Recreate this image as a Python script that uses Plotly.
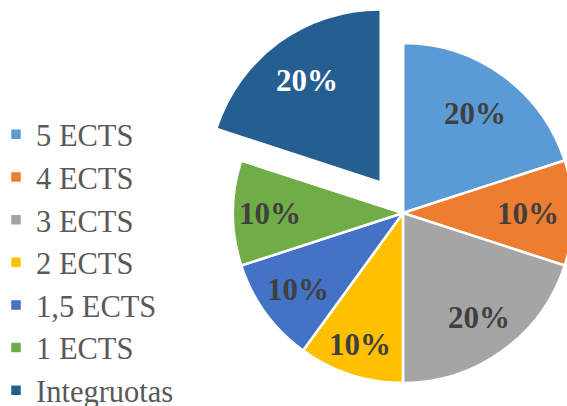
import math
import plotly.graph_objects as go

# ---- data ----
labels = ["5 ECTS", "4 ECTS", "3 ECTS", "2 ECTS", "1,5 ECTS", "1 ECTS", "Integruotas"]
values = [20, 10, 20, 10, 10, 10, 20]
pulled_label = "Integruotas"

# ---- style ----
colors = ["#5B9BD5", "#ED7D31", "#A5A5A5", "#FFC000", "#4472C4", "#70AD47", "#255E91"]
label_colors = ["#404040"] * 6 + ["#FFFFFF"]
label_dist_px = [123, 125, 129, 138, 130, 133, 124]  # distance of label from slice centre
W, H = 575, 406                     # canvas slightly wider than the 567px window (pie is cropped on the right)
CX, CY, R = 403, 213, 170           # pie centre / radius in pixels
PULL_PX = 40                        # explode distance of pulled slice
SERIF = "Liberation Serif, Times New Roman, serif"

total = sum(values)
pi = labels.index(pulled_label)
cum = 0
mids = []
for v in values:
    mids.append((cum + v / 2) / total * 2 * math.pi)
    cum += v

# offset of pulled slice
pdx = PULL_PX * math.sin(mids[pi])
pdy = -PULL_PX * math.cos(mids[pi])


def dom(cx, cy, r):
    return dict(x=[(cx - r) / W, (cx + r) / W],
                y=[(H - cy - r) / H, (H - cy + r) / H])


transparent = "rgba(0,0,0,0)"

fig = go.Figure()
# main pie (legend source)
fig.add_trace(go.Pie(
    labels=labels, values=values, sort=False, direction="clockwise", rotation=0,
    marker=dict(colors=colors, line=dict(color="white", width=2.5)),
    textinfo="none", hoverinfo="label+percent", domain=dom(CX, CY, R),
))
# white cover where the pulled slice originally was
fig.add_trace(go.Pie(
    labels=labels, values=values, sort=False, direction="clockwise", rotation=0,
    marker=dict(colors=[transparent if l != pulled_label else "white" for l in labels],
                line=dict(color=transparent, width=0)),
    textinfo="none", hoverinfo="skip", showlegend=False, domain=dom(CX, CY, R),
))
# pulled slice
fig.add_trace(go.Pie(
    labels=labels, values=values, sort=False, direction="clockwise", rotation=0,
    marker=dict(colors=[transparent if l != pulled_label else colors[pi] for l in labels],
                line=dict(color=transparent, width=0)),
    textinfo="none", hoverinfo="skip", showlegend=False,
    domain=dom(CX + pdx, CY + pdy, R),
))

annotations = []
for i, (v, m) in enumerate(zip(values, mids)):
    cx = CX + (pdx if i == pi else 0)
    cy = CY + (pdy if i == pi else 0)
    x = cx + label_dist_px[i] * math.sin(m)
    y = cy - label_dist_px[i] * math.cos(m)
    annotations.append(dict(
        x=x / W, y=1 - y / H, xref="paper", yref="paper", showarrow=False,
        text=f"<b>{round(v / total * 100)}%</b>",
        font=dict(family=SERIF, size=31, color=label_colors[i]),
        xanchor="center", yanchor="middle",
    ))

fig.update_layout(
    width=W, height=H, margin=dict(l=0, r=0, t=0, b=0, autoexpand=False),
    paper_bgcolor="white", plot_bgcolor="white",
    annotations=annotations,
    legend=dict(x=-4 / W, xanchor="left", y=1 - 108 / H, yanchor="top",
                font=dict(family=SERIF, size=30.5, color="#595959"),
                traceorder="normal", itemclick=False),
    showlegend=True,
)

fig.write_html(
    "out.html",
    config={"displayModeBar": False},
    post_script="document.body.style.margin='0';document.body.style.overflow='hidden';",
)
